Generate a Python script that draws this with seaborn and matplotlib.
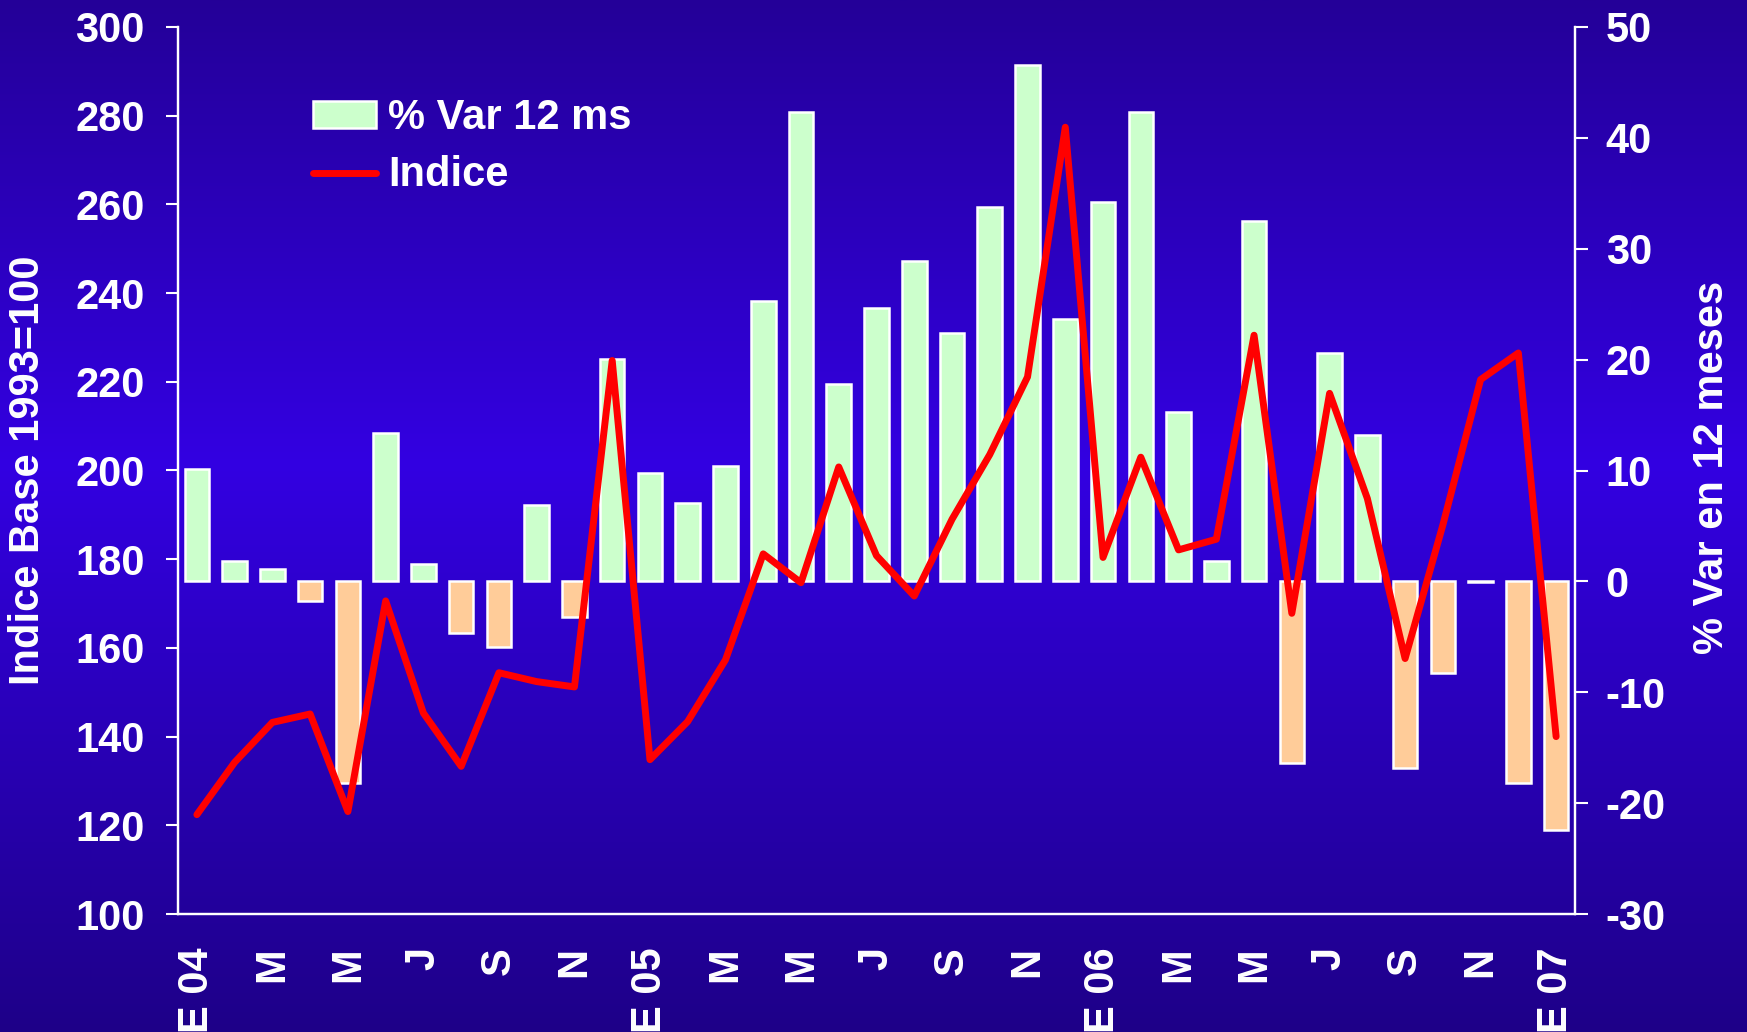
import numpy as np
import pandas as pd
import seaborn as sns
import matplotlib.pyplot as plt
from matplotlib.patches import Patch
from matplotlib.lines import Line2D
from matplotlib.ticker import FixedLocator

sns.set_style('white')
plt.rcParams['font.family'] = ['Liberation Sans', 'DejaVu Sans']
plt.rcParams['font.weight'] = 'bold'
plt.rcParams['axes.unicode_minus'] = False

# Data
meses = ['E 04', 'F', 'M', 'A', 'M', 'J', 'J', 'A', 'S', 'O', 'N', 'D',
         'E 05', 'F', 'M', 'A', 'M', 'J', 'J', 'A', 'S', 'O', 'N', 'D',
         'E 06', 'F', 'M', 'A', 'M', 'J', 'J', 'A', 'S', 'O', 'N', 'D',
         'E 07']
var_12m = [10.1, 1.8, 1.1, -1.8, -18.2, 13.4, 1.6, -4.7, -5.9, 6.9, -3.2, 20.1,
           9.8, 7.1, 10.4, 25.3, 42.3, 17.8, 24.7, 28.9, 22.4, 33.8, 46.6, 23.7,
           34.2, 42.3, 15.3, 1.8, 32.5, -16.4, 20.6, 13.2, -16.8, -8.3, -0.1, -18.2,
           -22.4]
indice = [122.4, 134.2, 143.2, 145.1, 123.1, 170.6, 145.3, 133.3, 154.4, 152.4, 151.2, 224.8,
          134.8, 143.4, 157.3, 181.2, 174.7, 200.8, 180.8, 171.7, 189.0, 203.6, 221.1, 277.4,
          180.4, 203.0, 182.1, 184.5, 230.5, 167.8, 217.4, 193.7, 157.6, 187.7, 220.5, 226.5,
          140.0]

df = pd.DataFrame({'pos': np.arange(len(meses)), 'var': var_12m, 'indice': indice})
df['signo'] = np.where(df['var'] >= 0, 'pos', 'neg')

W, H = 1747, 1032
fig = plt.figure(figsize=(W / 100, H / 100), dpi=100)

# fondo degradado
stops = [0.0, 0.45, 1.0]
cols = np.array([[36, 0, 152], [51, 0, 226], [30, 0, 136]]) / 255
t = np.linspace(0, 1, 400)
grad = np.stack([np.interp(t, stops, cols[:, k]) for k in range(3)], axis=1)
bg = fig.add_axes([0, 0, 1, 1], zorder=-10)
bg.imshow(grad[:, None, :], aspect='auto', extent=[0, 1, 0, 1])
bg.axis('off')

ax = fig.add_axes([178 / W, 1 - 914 / H, (1575 - 178) / W, (914 - 27) / H])
ax.set_facecolor('none')

# barras: % variacion 12 meses (eje derecho)
sns.barplot(data=df, x='pos', y='var', hue='signo',
            palette={'pos': '#CCFFCC', 'neg': '#FFCC99'}, saturation=1,
            dodge=False, width=0.65, edgecolor='white', linewidth=1.8,
            legend=False, ax=ax)
ax.set_ylim(-30, 50)
ax.set_yticks(np.arange(-30, 51, 10))

# linea: indice (eje izquierdo)
ax2 = ax.twinx()
ax2.set_facecolor('none')
sns.lineplot(data=df, x='pos', y='indice', color='#FF0000', lw=5, ax=ax2)
ax2.set_ylim(100, 300)
ax2.set_yticks(np.arange(100, 301, 20))

ax.yaxis.tick_right()
ax.yaxis.set_label_position('right')
ax2.yaxis.tick_left()
ax2.yaxis.set_label_position('left')

ax.set_xlim(-0.5, len(meses) - 0.5)
ax.set_xticks(np.arange(0, len(meses), 2))
ax.set_xticklabels(meses[::2], rotation=90, fontsize=30, fontweight='bold', color='white')
ax.xaxis.set_minor_locator(FixedLocator(np.arange(-0.5, len(meses), 1)))
ax.tick_params(axis='x', which='major', length=0, pad=24)
ax.tick_params(axis='x', which='minor', length=9, width=1.5, color='white', direction='out')
ax.tick_params(axis='y', length=9, width=1.5, color='white', direction='out',
               labelsize=30, labelcolor='white', pad=13)
ax2.tick_params(axis='y', length=9, width=1.5, color='white', direction='out',
                labelsize=30, labelcolor='white', pad=15)
for a in (ax, ax2):
    for s in a.spines.values():
        s.set_color('white')
        s.set_linewidth(1.6)
    a.spines['top'].set_visible(False)
    a.set_xlabel('')
    a.set_ylabel('')
    for lab in a.get_yticklabels():
        lab.set_fontweight('bold')

fig.text(28 / W, 1 - 470 / H, 'Indice Base 1993=100', rotation=90, fontsize=30,
         fontweight='bold', color='white', ha='center', va='center')
fig.text(1712 / W, 1 - 467 / H, '% Var en 12 meses', rotation=90, fontsize=30,
         fontweight='bold', color='white', ha='center', va='center')

handles = [Patch(facecolor='#CCFFCC', edgecolor='white', linewidth=1.8),
           Line2D([], [], color='#FF0000', lw=5)]
leg = ax2.legend(handles, ['% Var 12 ms', 'Indice'], loc='upper left',
                 bbox_to_anchor=(313 / W, 1 - 98 / H), bbox_transform=fig.transFigure,
                 frameon=False, fontsize=30, handlelength=1.5, handleheight=0.6,
                 handletextpad=0.3, labelspacing=0.42, borderpad=0, borderaxespad=0)
for txt in leg.get_texts():
    txt.set_color('white')
    txt.set_fontweight('bold')

fig.savefig('out.png', dpi=100)
